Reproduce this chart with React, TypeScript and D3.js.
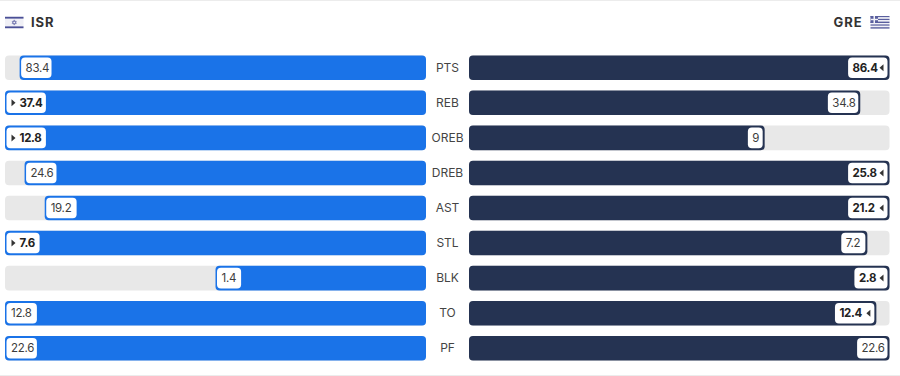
import React from "react";
import * as d3 from "d3";

const categories = ["PTS", "REB", "OREB", "DREB", "AST", "STL", "BLK", "TO", "PF"];
const isrValues = [83.4, 37.4, 12.8, 24.6, 19.2, 7.6, 1.4, 12.8, 22.6];
const greValues = [86.4, 34.8, 9, 25.8, 21.2, 7.2, 2.8, 12.4, 22.6];
const lowerIsBetter = ["TO"];
const isrName = "ISR";
const greName = "GRE";

const font = "Inter, 'Noto Sans', sans-serif";
const W = 900, H = 376;
const leftRange: [number, number] = [426, 5];
const rightRange: [number, number] = [469, 889.5];
const rowScale = d3.scaleBand<string>().domain(categories).range([55.5, 360.5]).paddingInner(0.3).paddingOuter(0);
const BLUE = "#1a73e8", NAVY = "#253352", TRACK = "#e8e8e8";

function Pill({ edge, y, h, v, win, side }: { edge: number; y: number; h: number; v: number; win: boolean; side: "l" | "r" }) {
  const txt = String(v);
  const dots = txt.includes(".") ? 1 : 0;
  const tw = (txt.length - dots) * 6.3 + dots * 3;
  const w = tw + 8.5 + (win ? 9 : 0);
  const x = side === "l" ? edge + 1.5 : edge - 2 - w;
  const cy = y + h / 2;
  let tx: number;
  let tri = "";
  if (side === "l") {
    tx = win ? x + 13 : x + 4.5;
    if (win) tri = `M${x + 5},${cy - 3.5}L${x + 9},${cy}L${x + 5},${cy + 3.5}Z`;
  } else {
    tx = x + 4.5;
    if (win) tri = `M${x + w - 4},${cy - 3.5}L${x + w - 8},${cy}L${x + w - 4},${cy + 3.5}Z`;
  }
  return (
    <g>
      <rect x={x} y={y + 2} width={w} height={h - 4} rx={4} fill="#fff" />
      {tri && <path d={tri} fill="#333" />}
      <text x={tx} y={cy + 4} fontSize={11.5} fontWeight={win ? 700 : 400} fill={win ? "#222" : "#3c3c3c"} fontFamily={font} letterSpacing={-0.3}>{txt}</text>
    </g>
  );
}

function IsrFlag() {
  return (
    <g transform="translate(5,16.5)">
      <rect width={18.5} height={12} fill="#f0f0f6" />
      <rect y={0.3} width={18.5} height={1.8} fill="#4a4f96" />
      <rect y={9.9} width={18.5} height={1.8} fill="#4a4f96" />
      <path d="M9.25,3.4L11.3,7.1H7.2Z M9.25,8.6L11.3,4.9H7.2Z" fill="none" stroke="#6a6eaa" strokeWidth={0.7} />
    </g>
  );
}

function GreFlag() {
  const stripes = d3.range(9);
  return (
    <g transform="translate(870.5,16)">
      {stripes.map((i) => (
        <rect key={i} y={i * 1.4} width={19} height={1.4} fill={i % 2 === 0 ? "#5a5f9e" : "#f2f2f7"} />
      ))}
      <rect width={7.5} height={7} fill="#5a5f9e" />
      <rect x={3} width={1.5} height={7} fill="#f2f2f7" />
      <rect y={2.8} width={7.5} height={1.4} fill="#f2f2f7" />
    </g>
  );
}

export default function App() {
  const h = rowScale.bandwidth();
  return (
    <svg width={W} height={H} style={{ position: "fixed", left: 0, top: 0, background: "#fff" }}>
      <rect x={0} y={0} width={W} height={1} fill="#ececec" />
      <rect x={0} y={375} width={W} height={1} fill="#ececec" />
      <IsrFlag />
      <text x={31} y={27} fontSize={13} fontWeight={700} fill="#333" fontFamily={font} letterSpacing={0.9}>{isrName}</text>
      <GreFlag />
      <text x={862.5} y={27} textAnchor="end" fontSize={13} fontWeight={700} fill="#333" fontFamily={font} letterSpacing={0.9}>{greName}</text>
      {categories.map((c, i) => {
        const y = rowScale(c)!;
        const a = isrValues[i], b = greValues[i];
        const max = Math.max(a, b);
        const sl = d3.scaleLinear().domain([0, max]).range(leftRange);
        const sr = d3.scaleLinear().domain([0, max]).range(rightRange);
        const xl = sl(a), xr = sr(b);
        const low = lowerIsBetter.includes(c);
        return (
          <g key={c}>
            <rect x={5} y={y} width={421} height={h} rx={4} fill={TRACK} />
            <rect x={469} y={y} width={420.5} height={h} rx={4} fill={TRACK} />
            <rect x={xl} y={y} width={426 - xl} height={h} rx={4} fill={BLUE} />
            <rect x={469} y={y} width={xr - 469} height={h} rx={4} fill={NAVY} />
            <Pill edge={xl} y={y} h={h} v={a} win={low ? a < b : a > b} side="l" />
            <Pill edge={xr} y={y} h={h} v={b} win={low ? b < a : b > a} side="r" />
            <text x={447.5} y={y + h / 2 + 4} textAnchor="middle" fontSize={12} fill="#444" fontFamily={font}>{c}</text>
          </g>
        );
      })}
    </svg>
  );
}
